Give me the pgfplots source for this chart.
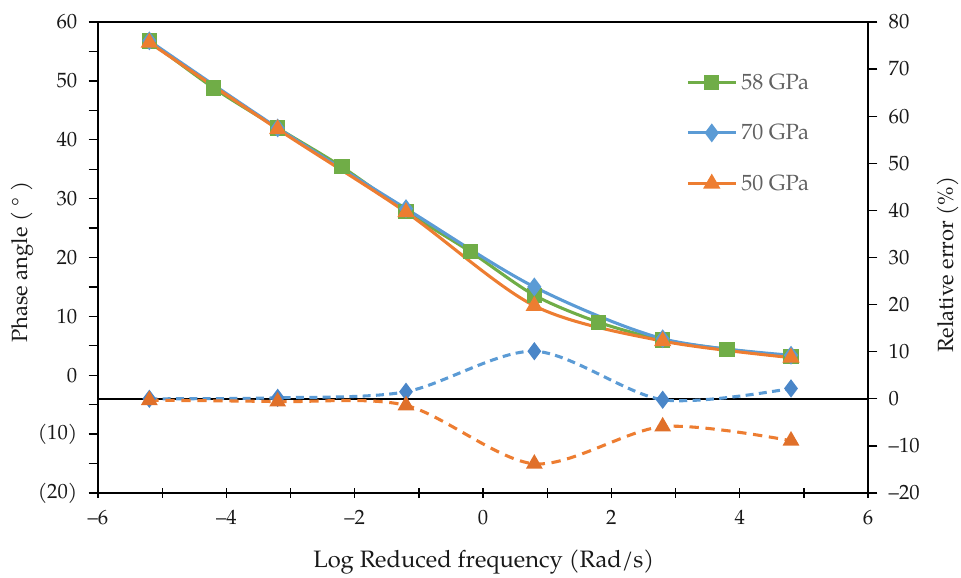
\documentclass[border=0pt]{standalone}
\usepackage{fontspec}
\setmainfont{TeX Gyre Pagella}
\usepackage{pgfplots}
\pgfplotsset{compat=1.18}
\usetikzlibrary{calc}
\definecolor{cg}{HTML}{70AD47}
\definecolor{cb}{HTML}{5B9BD5}
\definecolor{co}{HTML}{ED7D31}
\definecolor{cbd}{HTML}{4A86C8}
\definecolor{cod}{HTML}{E0702A}
\begin{document}
\begin{tikzpicture}[font=\fontsize{14}{16}\selectfont]
\pgfplotsset{every axis/.append style={
  scale only axis, width=577.5pt, height=353.25pt,
  xmin=-6, xmax=6,
  /pgf/number format/assume math mode=true,
  axis line style={line width=1.1pt, black},
  every tick/.style={line width=1pt, black},
  major tick length=7pt, minor tick length=7pt,
  tick label style={font=\fontsize{15.5}{17}\selectfont, text=black!90},
  label style={font=\fontsize{16.5}{18}\selectfont, text=black!90},
}}
\begin{axis}[name=a,
  ymin=-20, ymax=60,
  ytick={-20,-10,...,60},
  yticklabels={(20),(10),0,10,20,30,40,50,60},
  minor ytick={-15,-5,...,55},
  ytick pos=left, xtick pos=bottom,
  ytick align=outside, xtick align=center,
  xtick={-6,-4,...,6},
  xticklabels={–6,–4,–2,0,2,4,6},
  minor xtick={-5,-3,...,5},
  yticklabel style={xshift=-5pt},
  xticklabel style={yshift=-6pt},
  xlabel={Log Reduced frequency (Rad/s)},
  ylabel={Phase angle ( ° )},
  xlabel style={at={(axis description cs:0.501,-0.1465)}, anchor=center, font=\fontsize{17.8}{19}\selectfont},
  ylabel style={at={(axis description cs:-0.0987,0.49)}, anchor=center},
  legend cell align=left,
  legend style={at={(axis description cs:0.7636,0.897)}, anchor=north west,
    draw=none, fill=none, inner sep=0pt, row sep=20.8pt,
    font=\fontsize{16.5}{18}\selectfont, text=black!62,
    /tikz/every odd column/.append style={column sep=1pt}},
  legend image code/.code={\draw[mark repeat=2,mark phase=2] plot coordinates {(0pt,0pt)(18pt,0pt)(36pt,0pt)};},
]
\addplot[cg, line width=2.3pt, smooth, mark=square*, mark size=4.6pt, mark options={solid, fill=cg, draw=cg}]
  coordinates {(-5.2,56.8) (-4.2,48.8) (-3.2,42.0) (-2.2,35.4) (-1.2,27.8) (-0.2,21.0) (0.8,13.6) (1.8,9.0) (2.8,6.0) (3.8,4.4) (4.8,3.2)};
\addlegendentry{58 GPa}
\addplot[cb, line width=2.3pt, smooth, mark=diamond*, mark size=5.2pt, mark options={solid, fill=cb, draw=cb}]
  coordinates {(-5.2,56.8) (-3.2,42.0) (-1.2,28.3) (0.8,15.0) (2.8,6.2) (4.8,3.4)};
\addlegendentry{70 GPa}
\addplot[co, line width=2.3pt, smooth, mark=triangle*, mark size=5.2pt, mark options={solid, fill=co, draw=co}]
  coordinates {(-5.2,56.5) (-3.2,41.8) (-1.2,27.7) (0.8,11.8) (2.8,5.8) (4.8,3.0)};
\addlegendentry{50 GPa}
\end{axis}
\begin{axis}[
  ymin=-20, ymax=80,
  axis y line*=right, axis x line=none,
  ytick={-20,-10,...,80},
  yticklabels={–20,–10,0,10,20,30,40,50,60,70,80},
  ytick align=outside,
  yticklabel style={xshift=5pt},
  ylabel={Relative error (\%)},
  ylabel style={at={(axis description cs:1.104,0.485)}, anchor=center, rotate=0},
]
\addplot[black, line width=1.3pt, forget plot] coordinates {(-6,0) (6,0)};
\addplot[cb, line width=2.3pt, smooth, dash pattern=on 6pt off 4pt, mark=diamond*, mark size=5pt, mark options={solid, fill=cbd, draw=cbd}]
  coordinates {(-5.2,0.0) (-3.2,0.2) (-1.2,1.5) (0.8,10.1) (2.8,-0.2) (4.8,2.2)};
\addplot[co, line width=2.3pt, smooth, dash pattern=on 7pt off 5pt, mark=triangle*, mark size=5pt, mark options={solid, fill=cod, draw=cod}]
  coordinates {(-5.2,-0.3) (-3.2,-0.6) (-1.2,-1.4) (0.8,-13.8) (2.8,-5.9) (4.8,-8.9)};
\end{axis}
\pgfresetboundingbox
\path ($(a.south west)+(-73.5pt,-63pt)$) rectangle ($(a.north east)+(69.75pt,16.5pt)$);
\end{tikzpicture}
\end{document}
